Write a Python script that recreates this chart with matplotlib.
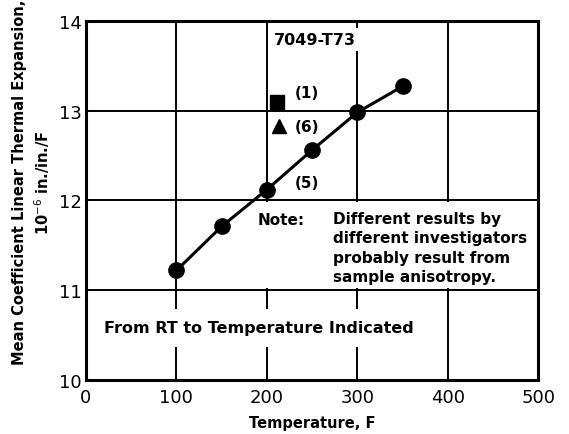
import matplotlib
matplotlib.use("Agg")
import matplotlib.pyplot as plt

temps = [100, 150, 200, 250, 300, 350]
cte_5 = [11.22, 11.71, 12.12, 12.56, 12.98, 13.27]
sq_x, sq_y = [211], [13.09]
tri_x, tri_y = [213], [12.83]
xticks = [0, 100, 200, 300, 400, 500]
yticks = [10, 11, 12, 13, 14]

plt.rcParams['font.family'] = ['DejaVu Sans']
fig = plt.figure(figsize=(5.69, 4.35), dpi=100)
ax = fig.add_axes([0.151, 0.124, 0.795, 0.826])
ax.set_xlim(0, 500)
ax.set_ylim(10, 14)
ax.set_xticks(xticks)
ax.set_yticks(yticks)
ax.tick_params(length=0, labelsize=13, pad=3)
ax.tick_params(axis='x', pad=6)
for s in ax.spines.values():
    s.set_linewidth(2.2)
    s.set_color('black')
ax.grid(True, color='black', linewidth=1.4)
ax.set_axisbelow(True)

ax.plot(temps, cte_5, '-', color='black', lw=2.2, zorder=3)
ax.plot(temps, cte_5, 'o', color='black', ms=11, zorder=4)
ax.plot(sq_x, sq_y, 's', color='black', ms=10.5, zorder=4)
ax.plot(tri_x, tri_y, '^', color='black', ms=10.5, zorder=4)

bb = dict(facecolor='white', edgecolor='none', pad=3)
kw = dict(fontweight='bold', color='black', zorder=5)
ax.text(253, 13.79, '7049-T73', ha='center', va='center', fontsize=11.5, bbox=bb, **kw)
ax.text(231, 13.2, '(1)', ha='left', va='center', fontsize=11, **kw)
ax.text(231, 12.82, '(6)', ha='left', va='center', fontsize=11, **kw)
ax.text(231, 12.2, '(5)', ha='left', va='center', fontsize=11, **kw)
ax.add_patch(plt.Rectangle((190, 11.02), 309, 0.96, facecolor='white',
                           edgecolor='none', zorder=2))
ax.text(190, 11.79, 'Note:', ha='left', va='center', fontsize=11, **kw)
ax.text(273, 11.885, 'Different results by\ndifferent investigators\nprobably result from\nsample anisotropy.',
        ha='left', va='top', linespacing=1.38, fontsize=11, **kw)
ax.text(20, 10.58, 'From RT to Temperature Indicated', ha='left', va='center',
        fontsize=11.5, bbox=dict(facecolor='white', edgecolor='none', pad=8), **kw)

ax.set_xlabel('Temperature, F', fontsize=10.5, fontweight='bold', labelpad=6)
ax.set_ylabel('Mean Coefficient Linear Thermal Expansion,\n10$^{-6}$ in./in./F',
              fontsize=10.5, fontweight='bold', linespacing=1.3)
ax.yaxis.set_label_coords(-0.075, 0.553)

fig.savefig('out.png', dpi=100)
